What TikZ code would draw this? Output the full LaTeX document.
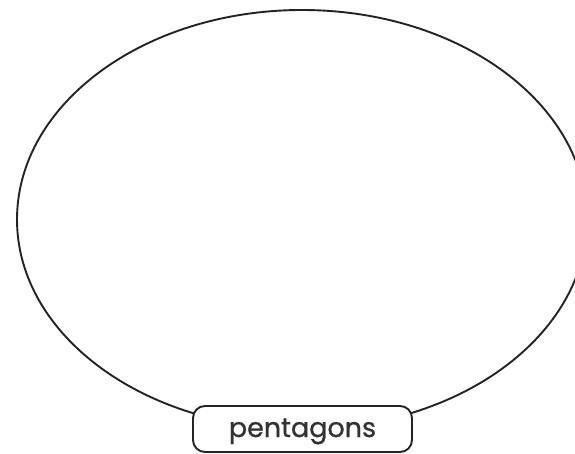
\documentclass[tikz,border=0pt]{standalone}
\usepackage{fontspec}
\setmainfont{Poppins}
\newfontfamily\tagfont{Poppins}[FakeBold=0.8]
\usepackage{xcolor}
\usepackage{tikz}
\usetikzlibrary{shapes.geometric}
\definecolor{LineGray}{RGB}{35,35,35}
\definecolor{TextGray}{RGB}{50,50,50}

\begin{document}
\begin{tikzpicture}[
x=1pt,y=-1pt,
ring/.style={
draw=LineGray,
ellipse,
line width=1.9pt,
inner sep=0pt,
minimum width=570pt,
minimum height=419pt
},
tag/.style={
draw=LineGray,
rounded corners=12pt,
line width=1.9pt,
fill=white,
minimum width=219pt,
minimum height=46pt,
text=TextGray,
text height=19pt,
text depth=3pt,
font=\tagfont\fontsize{27}{30}\selectfont
}
]
\useasboundingbox (0,0) rectangle (575,454);
\node[ring] (set) at (302,219.5) {};
\node[tag] (label) at (302.5,429) {pentagons};
\end{tikzpicture}
\end{document}
